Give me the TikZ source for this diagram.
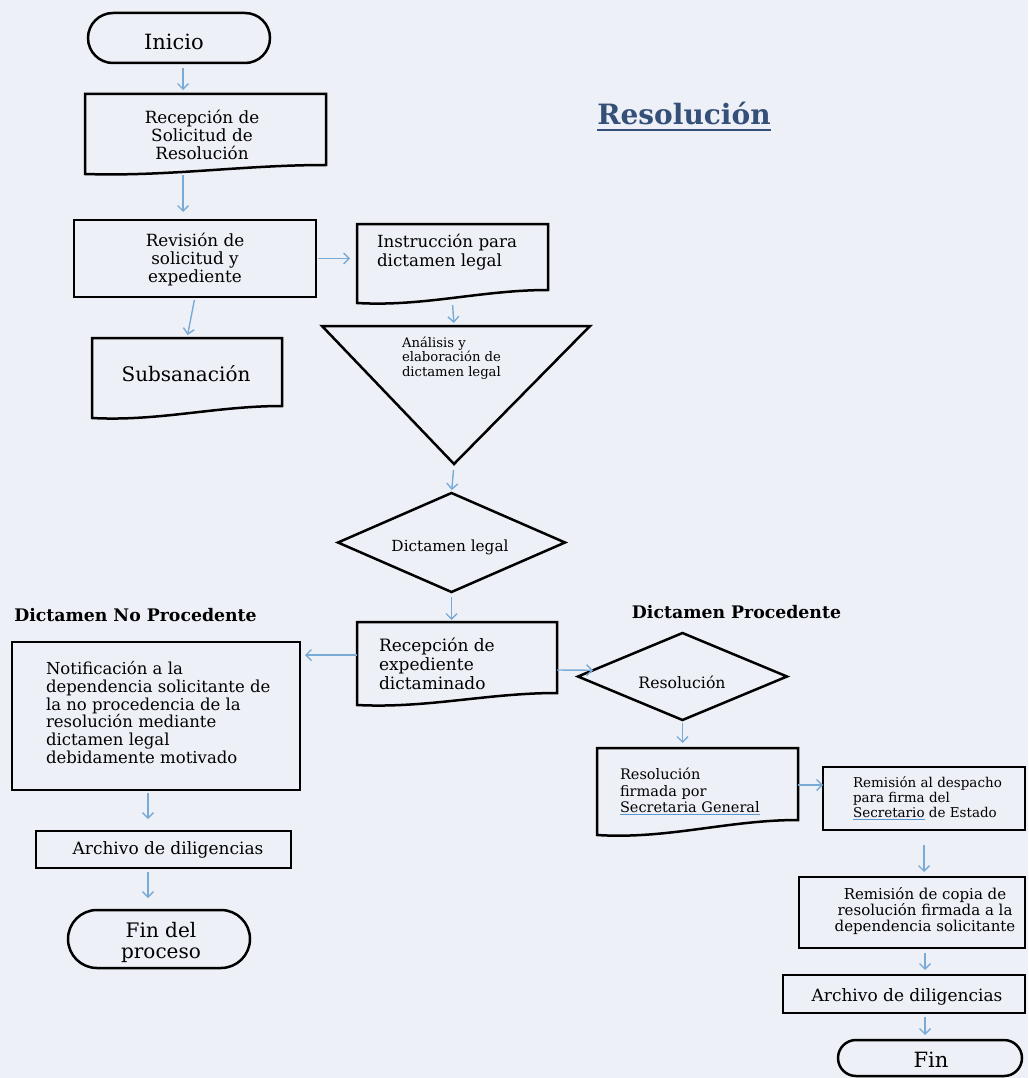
\documentclass[tikz,border=0pt]{standalone}
\usepackage{fontspec}
\setmainfont{DejaVu Serif}
\usetikzlibrary{arrows.meta,shapes.geometric,shapes.misc}
\definecolor{paper}{RGB}{238,240,247}
\definecolor{arrowblue}{RGB}{122,170,214}
\definecolor{ulblue}{RGB}{90,150,210}
\definecolor{titleblue}{RGB}{52,80,120}
\newcommand\fs[2]{\fontsize{#1pt}{#2pt}\selectfont}
\newcommand\bluline[1]{\textcolor{ulblue}{\underline{\textcolor{black}{#1}}}}
\newcommand\docoutline[3]{%
  \draw[box] (#1.north west) -- (#1.north east) -- ([yshift=#3pt]#1.south east)
   .. controls ([xshift=-0.35*#2pt,yshift=#3pt]#1.south east) and ([xshift=0.35*#2pt,yshift=-0.3*#3pt]#1.south west) .. (#1.south west) -- cycle;}
\tikzset{
 box/.style={draw=black, line width=2.5pt, line join=miter},
 shp/.style={inner sep=0pt, outer sep=0pt},
 txt/.style={inner sep=0pt, outer sep=0pt, text=black},
 arr/.style={draw=arrowblue, line width=1.4pt, -{Straight Barb[length=5.5pt,width=11pt]}},
}
\begin{document}
\begin{tikzpicture}[x=1pt,y=-1pt]
\fill[paper] (0,0) rectangle (1028,1078);
\useasboundingbox (0,0) rectangle (1028,1078);

% shapes
\node[shp, rounded rectangle, box, minimum width=182pt, minimum height=50pt] (inicio) at (179,38) {};
\node[shp, minimum width=241pt, minimum height=80pt] (recsol) at (205.5,134) {};
\docoutline{recsol}{241}{9}
\node[shp, box, rectangle, minimum width=242pt, minimum height=77pt] (rev) at (195,258.5) {};
\node[shp, minimum width=191pt, minimum height=79pt] (instr) at (452.5,263.5) {};
\docoutline{instr}{191}{13}
\node[shp, minimum width=190pt, minimum height=80pt] (sub) at (187,378) {};
\docoutline{sub}{190}{12}
\coordinate (trinw) at (322,326);
\coordinate (trine) at (590,326);
\coordinate (tribot) at (454,464);
\coordinate (tritop) at (454,326);
\draw[box] (trinw) -- (trine) -- (tribot) -- cycle;
\node[shp, diamond, box, minimum width=227pt, minimum height=99pt] (dict) at (451.5,542.5) {};
\node[shp, minimum width=200pt, minimum height=83pt] (recexp) at (457,663.5) {};
\docoutline{recexp}{200}{12}
\node[shp, box, rectangle, minimum width=288pt, minimum height=148pt] (notif) at (156,716) {};
\node[shp, box, rectangle, minimum width=255pt, minimum height=37pt] (archL) at (163.5,849.5) {};
\node[shp, rounded rectangle, box, minimum width=182pt, minimum height=58pt] (finL) at (159,939) {};
\node[shp, diamond, box, minimum width=209pt, minimum height=87pt] (res) at (682.5,676.5) {};
\node[shp, minimum width=201pt, minimum height=87pt] (firm) at (697.5,791.5) {};
\docoutline{firm}{201}{15}
\node[shp, box, rectangle, minimum width=202pt, minimum height=63pt] (remdes) at (924,798.5) {};
\node[shp, box, rectangle, minimum width=226pt, minimum height=71pt] (remcop) at (912,912.5) {};
\node[shp, box, rectangle, minimum width=242pt, minimum height=38pt] (archR) at (904,994) {};
\node[shp, rounded rectangle, box, minimum width=184pt, minimum height=36pt] (finR) at (930,1058) {};

% texts
\node[txt, font=\fs{21}{24}] (tInicio) at (174,42) {Inicio};
\node[txt, font=\fs{16.8}{18}, align=center] (tRecsol) at (202,135) {Recepción de\\Solicitud de\\Resolución};
\node[txt, font=\fs{16.8}{18}, align=center] (tRev) at (195,260) {Revisión de\\solicitud y\\expediente};
\node[txt, font=\fs{16.7}{19}, align=left, anchor=west] (tInstr) at (377,252.5) {Instrucción para\\dictamen legal};
\node[txt, font=\fs{20}{22}] (tSub) at (186,374) {Subsanación};
\node[txt, font=\fs{13.2}{14.5}, align=left, anchor=west] (tTri) at (402,358) {Análisis y\\elaboración de\\dictamen legal};
\node[txt, font=\fs{15.3}{18}] (tDict) at (450,547) {Dictamen legal};
\node[txt, font=\fs{17.3}{19}\bfseries] (tNo) at (135.5,615) {Dictamen No Procedente};
\node[txt, font=\fs{16.5}{17.8}, align=left, anchor=west] (tNotif) at (46,712.5) {Notificación a la\\dependencia solicitante de\\la no procedencia de la\\resolución mediante\\dictamen legal\\debidamente motivado};
\node[txt, font=\fs{17}{19}, align=left, anchor=west] (tRecexp) at (379,664) {Recepción de\\expediente\\dictaminado};
\node[txt, font=\fs{17}{19}] (tArchL) at (168,850) {Archivo de diligencias};
\node[txt, font=\fs{20}{21}, align=center] (tFinL) at (161,942) {Fin del\\proceso};
\node[txt, font=\fs{17.3}{19}\bfseries] (tProc) at (736.5,612) {Dictamen Procedente};
\node[txt, font=\fs{15.7}{18}] (tRes) at (682,682) {Resolución};
\node[txt, font=\fs{14.5}{16.5}, align=left, anchor=west] (tFirm) at (620,791.5) {Resolución\\firmada por\\\bluline{Secretaria General}};
\node[txt, font=\fs{13.5}{15}, align=left, anchor=west] (tRemdes) at (853,798) {Remisión al despacho\\para firma del\\\bluline{Secretario} de Estado};
\node[txt, font=\fs{15}{16}, align=center] (tRemcop) at (925,911) {Remisión de copia de\\resolución firmada a la\\dependencia solicitante};
\node[txt, font=\fs{17}{19}] (tArchR) at (907,997) {Archivo de diligencias};
\node[txt, font=\fs{21}{22}] (tFin) at (931,1060) {Fin};
\node[txt, font=\fs{28}{30}\bfseries, text=titleblue, anchor=base] (tTitle) at (684,125) {Resolución};
\draw[titleblue, line width=2pt] ([yshift=-5pt]tTitle.base west) -- ([yshift=-5pt]tTitle.base east);

% connectors
\draw[arr, shorten <=5pt, shorten >=4pt] ([xshift=4pt]inicio.south) -- ([xshift=4pt]inicio.south |- recsol.north);
\draw[arr, shorten <=1pt, shorten >=8pt] ([xshift=-22.5pt]recsol.south) -- ([xshift=-22.5pt]recsol.south |- rev.north);
\draw[arr, shorten <=2pt, shorten >=7pt] (rev.east) -- (rev.east -| instr.west);
\draw[arr, shorten <=3pt, shorten >=3pt] (rev.south) -- (sub.north);
\draw[arr, shorten <=2pt, shorten >=3pt] (instr.south) -- (tritop);
\draw[arr, shorten <=6pt, shorten >=3pt] (tribot) -- (dict.north);
\draw[arr, shorten <=5pt, shorten >=2pt] (dict.south) -- (dict.south |- recexp.north);
\draw[arr, shorten <=0pt, shorten >=5pt] ([yshift=8.5pt]recexp.west) -- ([yshift=8.5pt]recexp.west -| notif.east);
\draw[arr, shorten <=0pt, shorten >=0pt] ([yshift=-6.5pt]recexp.east) -- (res.176);
\draw[arr, shorten <=3pt, shorten >=12pt] ([xshift=-8pt]notif.south) -- ([xshift=-8pt]notif.south |- archL.north);
\draw[arr, shorten <=4pt, shorten >=12pt] ([xshift=-15.5pt]archL.south) -- ([xshift=-15.5pt]archL.south |- finL.north);
\draw[arr, shorten <=3pt, shorten >=5pt] (res.south) -- (res.south |- firm.north);
\draw[arr, shorten <=0pt, shorten >=0pt] ([yshift=6.5pt]firm.east) -- ([yshift=6.5pt]firm.east -| remdes.west);
\draw[arr, shorten <=15pt, shorten >=5pt] (remdes.south) -- (remdes.south |- remcop.north);
\draw[arr, shorten <=5pt, shorten >=5pt] ([xshift=13pt]remcop.south) -- ([xshift=13pt]remcop.south |- archR.north);
\draw[arr, shorten <=4pt, shorten >=5pt] ([xshift=21pt]archR.south) -- ([xshift=21pt]archR.south |- finR.north);
\end{tikzpicture}
\end{document}
